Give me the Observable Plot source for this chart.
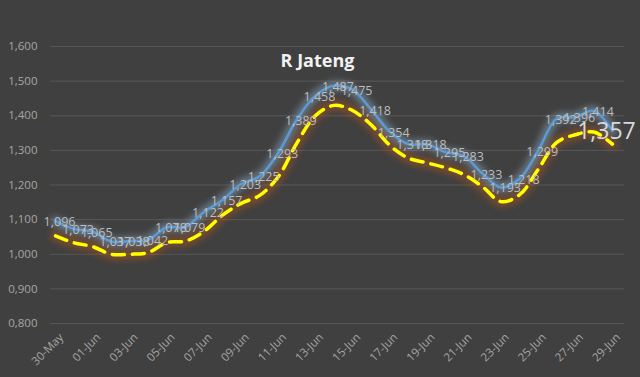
<!DOCTYPE html>
<html>
<head>
<meta charset="utf-8">
<script src="https://cdn.jsdelivr.net/npm/d3@7"></script>
<script src="https://cdn.jsdelivr.net/npm/@observablehq/plot@0.6"></script>
<style>
  html, body { margin: 0; padding: 0; background: #404040; }
  #wrap { position: relative; width: 640px; height: 377px; overflow: hidden; }
  #title { position: absolute; left: 0; width: 635px; top: 51px; text-align: center;
           font: bold 18px/18px "Open Sans", sans-serif; color: #f2f2f2; }
</style>
</head>
<body>
<div id="wrap"><div id="title">R Jateng</div></div>
<script>
const dates = ["2020-05-30","2020-05-31","2020-06-01","2020-06-02","2020-06-03","2020-06-04","2020-06-05","2020-06-06",
  "2020-06-07","2020-06-08","2020-06-09","2020-06-10","2020-06-11","2020-06-12","2020-06-13","2020-06-14",
  "2020-06-15","2020-06-16","2020-06-17","2020-06-18","2020-06-19","2020-06-20","2020-06-21","2020-06-22",
  "2020-06-23","2020-06-24","2020-06-25","2020-06-26","2020-06-27","2020-06-28","2020-06-29"];
const rValues = [1096,1073,1065,1037,1038,1042,1078,1079,1122,1157,1203,1225,1293,1389,1458,1487,
  1475,1418,1354,1318,1318,1295,1283,1233,1193,1218,1299,1392,1396,1414,1357];
const rLower = [1053,1033,1022,1000,1000,1005,1034,1038,1066,1113,1147,1170,1224,1321,1400,1430,
  1415,1374,1315,1278,1264,1250,1230,1195,1152,1172,1245,1323,1345,1353,1318];
const yTicks = [800,900,1000,1100,1200,1300,1400,1500,1600];
const yTickLabels = ["0,800","0,900","1,000","1,100","1,200","1,300","1,400","1,500","1,600"];
const xTickDates = ["2020-05-30","2020-06-01","2020-06-03","2020-06-05","2020-06-07","2020-06-09","2020-06-11","2020-06-13",
  "2020-06-15","2020-06-17","2020-06-19","2020-06-21","2020-06-23","2020-06-25","2020-06-27","2020-06-29"];
const xTickLabels = ["30-May","01-Jun","03-Jun","05-Jun","07-Jun","09-Jun","11-Jun","13-Jun",
  "15-Jun","17-Jun","19-Jun","21-Jun","23-Jun","25-Jun","27-Jun","29-Jun"];

const parse = d3.utcParse("%Y-%m-%d");
const rows = dates.map((d, i) => ({date: parse(d), r: rValues[i], lower: rLower[i], last: i === dates.length - 1}));
const xTicks = xTickDates.map(parse);
const xLabelMap = new Map(xTicks.map((d, i) => [+d, xTickLabels[i]]));
const yLabelMap = new Map(yTicks.map((v, i) => [v, yTickLabels[i]]));
const day = 864e5;
const x0 = parse(dates[0]), x1 = parse(dates[dates.length - 1]);

const chart = Plot.plot({
  width: 640, height: 377,
  marginLeft: 50, marginRight: 16, marginTop: 46, marginBottom: 54,
  style: {background: "#404040", color: "#a6a6a6", fontFamily: "Open Sans, sans-serif"},
  x: {type: "utc", domain: [new Date(+x0 - 0.27 * day), new Date(+x1 + 0.65 * day)]},
  y: {domain: [800, 1600]},
  marks: [
    Plot.ruleY(yTicks, {stroke: "#575757", strokeWidth: 1}),
    Plot.axisY({ticks: yTicks, tickFormat: v => yLabelMap.get(v), tickSize: 0, tickPadding: 13, label: null,
      fontSize: 11.5, fill: "#a6a6a6"}),
    Plot.axisX({ticks: xTicks, tickFormat: d => xLabelMap.get(+d), tickRotate: -45, tickSize: 0, tickPadding: 12,
      dx: 6, label: null, fontSize: 11.5, fill: "#a6a6a6"}),
    Plot.lineY(rows, {x: "date", y: "lower", curve: "catmull-rom", stroke: "#c55a11", strokeWidth: 11, strokeOpacity: 0.4, imageFilter: "blur(3px)"}),
    Plot.lineY(rows, {x: "date", y: "r", curve: "catmull-rom", stroke: "#9dc3e6", strokeWidth: 10, strokeOpacity: 0.4, imageFilter: "blur(3px)"}),
    Plot.lineY(rows, {x: "date", y: "r", curve: "catmull-rom", stroke: "#5b9bd5", strokeWidth: 2.5}),
    Plot.lineY(rows, {x: "date", y: "lower", curve: "catmull-rom", stroke: "#ffff00", strokeWidth: 3.5, strokeDasharray: "12,8"}),
    Plot.text(rows.filter(d => !d.last), {x: "date", y: "r", text: d => d3.format(",")(d.r), dx: 4, dy: 1,
      fill: "#bdbdbd", fontSize: 12.5}),
    Plot.text(rows.filter(d => d.last), {x: "date", y: "r", text: d => d3.format(",")(d.r), dx: -6, dy: 1,
      fill: "#d9d9d9", fontSize: 23})
  ]
});
document.getElementById("wrap").prepend(chart);
chart.style.position = "absolute";
chart.style.left = "0";
chart.style.top = "0";
</script>
</body>
</html>
